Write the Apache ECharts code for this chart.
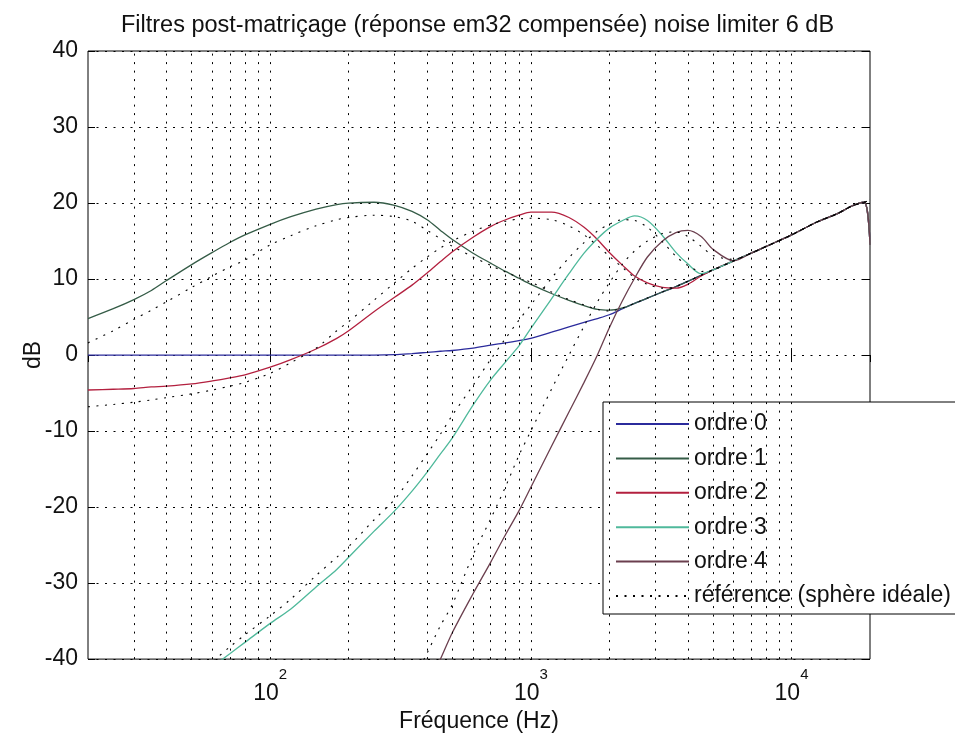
<!DOCTYPE html>
<html>
<head>
<meta charset="utf-8">
<title>Filtres post-matriçage</title>
<script src="https://cdn.jsdelivr.net/npm/echarts@6.0.0/dist/echarts.min.js"></script>
<style>
  html, body { margin: 0; padding: 0; background: #fff; }
  #chart { width: 955px; height: 738px; }
</style>
</head>
<body>
<div id="chart"></div>
<script>
// fréquences communes à toutes les courbes (Hz)
const freqs = [20, 25, 30, 35, 40, 50, 60, 70, 80, 100, 120, 150, 180, 200, 250, 300, 350, 400, 450, 500,
  600, 700, 800, 900, 1000, 1200, 1400, 1600, 1800, 2000, 2250, 2500, 2800, 3200, 3600, 4000, 4500, 5000,
  6000, 7000, 8000, 10000, 12500, 15000, 17000, 19000, 20000];

// filtres em32 compensés (dB)
const ordre0 = [0, 0, 0, 0, 0, 0, 0, 0, 0, 0, 0, 0, 0, 0, 0, 0.05, 0.2, 0.35, 0.5, 0.6,
  0.9, 1.3, 1.6, 1.9, 2.2, 3.0, 3.7, 4.3, 4.8, 5.3, 6.1, 6.8, 7.5, 8.3, 9.0, 9.7, 10.5, 11.2,
  12.4, 13.4, 14.3, 15.8, 17.5, 18.6, 19.6, 20.1, 14.5];
const ordre1 = [4.8, 6.1, 7.3, 8.5, 9.8, 11.9, 13.5, 14.8, 15.8, 17.2, 18.2, 19.2, 19.8, 20.0, 20.1, 19.7, 18.9, 17.8, 16.4, 15.2,
  13.4, 12.1, 11.0, 10.1, 9.3, 8.1, 7.2, 6.5, 6.0, 5.9, 6.2, 6.8, 7.5, 8.3, 9.0, 9.7, 10.5, 11.2,
  12.4, 13.4, 14.3, 15.8, 17.5, 18.6, 19.6, 20.1, 14.5];
const ordre2 = [-4.6, -4.5, -4.4, -4.2, -4.1, -3.8, -3.4, -3.0, -2.6, -1.6, -0.6, 0.8, 2.2, 3.2, 5.7, 7.6, 9.2, 10.8, 12.3, 13.6,
  15.5, 16.9, 17.8, 18.4, 18.8, 18.8, 18.1, 16.8, 15.2, 13.5, 11.8, 10.4, 9.5, 8.9, 8.8, 9.3, 10.4, 11.2,
  12.4, 13.4, 14.3, 15.8, 17.5, 18.6, 19.6, 20.1, 14.5];
const ordre3 = [null, null, null, null, null, -43, -41, -39.3, -37.8, -35.3, -33.4, -30.5, -28.2, -26.6, -23.2, -20.5, -17.9, -15.4, -13.0, -10.9,
  -6.6, -3.3, -0.9, 1.2, 3.5, 7.4, 10.7, 13.4, 15.3, 16.7, 17.7, 18.3, 17.7, 15.7, 13.5, 12.0, 10.7, 11.2,
  12.4, 13.4, 14.3, 15.8, 17.5, 18.6, 19.6, 20.1, 14.5];
const ordre4 = [null, null, null, null, null, null, null, null, null, null, null, null, null, null, null, null, null, -43.7, -40, -36.5,
  -31.4, -27.3, -23.6, -20.5, -17.4, -12.0, -7.5, -3.6, 0.0, 3.6, 7.2, 10.1, 12.9, 15.0, 16.1, 16.4, 15.6, 13.9,
  12.4, 13.4, 14.3, 15.8, 17.5, 18.6, 19.6, 20.1, 14.5];

// référence : sphère idéale (dB)
const ref1 = [1.6, 3.2, 4.7, 5.9, 7.0, 8.9, 10.4, 11.6, 12.5, 14.5, 15.7, 17.0, 17.8, 18.1, 18.4, 18.2, 17.6, 16.4, 15.3, 14.3,
  12.9, 11.8, 10.9, 10.2, 9.6, 8.3, 7.3, 6.6, 6.0, 5.8, 6.2, 6.8, 7.5, 8.3, 9.0, 9.7, 10.5, 11.2,
  12.4, 13.4, 14.3, 15.8, 17.5, 18.6, 19.6, 20.1, 20.4];
const ref2 = [-6.8, -6.5, -6.2, -5.9, -5.6, -5.1, -4.6, -4.1, -3.6, -2.4, -1.0, 0.9, 3.2, 4.4, 7.2, 9.5, 11.4, 12.9, 14.1, 15.0,
  16.3, 17.1, 17.6, 17.9, 18.0, 17.8, 17.0, 15.8, 14.4, 13.0, 11.5, 10.2, 9.3, 8.8, 9.0, 9.7, 10.5, 11.2,
  12.4, 13.4, 14.3, 15.8, 17.5, 18.6, 19.6, 20.1, 20.4];
const ref3 = [null, null, null, null, null, -42, -40.3, -38.4, -36.8, -34.3, -32.1, -29.0, -26.6, -25.2, -21.7, -19.0, -15.9, -13.0, -10.4, -7.9,
  -4.0, -0.6, 2.2, 4.6, 6.6, 10.1, 12.8, 14.8, 16.3, 17.2, 17.8, 17.7, 16.8, 14.9, 13.0, 11.8, 11.0, 11.2,
  12.4, 13.4, 14.3, 15.8, 17.5, 18.6, 19.6, 20.1, 20.4];
const ref4 = [null, null, null, null, null, null, null, null, null, null, null, null, null, null, null, null, -43.1, -39.2, -35.6, -32.8,
  -26.3, -21.6, -17.3, -13.2, -10.0, -4.5, 0.0, 3.8, 7.0, 9.5, 12.0, 13.7, 15.0, 16.0, 16.2, 15.6, 14.3, 13.1,
  12.6, 13.4, 14.3, 15.8, 17.5, 18.6, 19.6, 20.1, 20.4];

// lignes de grille verticales (décades + intermédiaires)
const gridFreqs = [30, 40, 50, 60, 70, 80, 90, 100, 200, 300, 400, 500, 600, 700, 800, 900,
  1000, 2000, 3000, 4000, 5000, 6000, 7000, 8000, 9000, 10000];

const noms = ['ordre 0', 'ordre 1', 'ordre 2', 'ordre 3', 'ordre 4'];
const couleurs = ['#2b2b9c', '#355c47', '#b3203f', '#4fb99b', '#6b3f4e'];
const refNom = 'référence (sphère idéale)';

const FONT = "'Liberation Sans', Arial, sans-serif";
const dots = [2, 6.5];

function pairs(vals) {
  return freqs.map((f, i) => [f, vals[i]]);
}

const solides = [ordre0, ordre1, ordre2, ordre3, ordre4].map((vals, i) => ({
  name: noms[i],
  type: 'line',
  data: pairs(vals),
  symbol: 'none',
  smooth: 0.3,
  lineStyle: { color: couleurs[i], width: 1.3 },
  itemStyle: { color: couleurs[i] },
  z: 3
}));

const refs = [ref1, ref2, ref3, ref4].map(vals => ({
  name: refNom,
  type: 'line',
  data: pairs(vals),
  symbol: 'none',
  smooth: 0.3,
  lineStyle: { color: '#000', width: 1.1, type: dots },
  itemStyle: { color: '#000' },
  z: 4
}));

const grille = {
  name: 'grille',
  type: 'line',
  data: [],
  silent: true,
  markLine: {
    silent: true,
    symbol: 'none',
    animation: false,
    label: { show: false },
    lineStyle: { color: '#000', width: 1, type: dots },
    emphasis: { disabled: true },
    data: gridFreqs.map(f => ({ xAxis: f }))
  },
  z: 1
};

const chart = echarts.init(document.getElementById('chart'));

chart.setOption({
  animation: false,
  backgroundColor: '#fff',
  title: {
    text: 'Filtres post-matriçage (réponse em32 compensée) noise limiter 6 dB',
    left: 'center',
    top: 9,
    textStyle: { fontSize: 23.5, fontWeight: 'normal', color: '#111', fontFamily: FONT }
  },
  grid: {
    left: 88, top: 51, width: 782, height: 612,
    show: true, borderColor: '#000', borderWidth: 1, backgroundColor: 'transparent'
  },
  legend: {
    orient: 'vertical',
    left: 603, top: 402,
    padding: [10, 80, 6, 12],
    itemGap: 10.4,
    itemWidth: 73,
    itemHeight: 12,
    backgroundColor: '#fff',
    borderColor: '#000',
    borderWidth: 1,
    selectedMode: false,
    itemStyle: { opacity: 0 },
    lineStyle: { width: 2 },
    textStyle: { fontSize: 23, lineHeight: 24, color: '#111', fontFamily: FONT },
    data: noms.concat([refNom])
  },
  xAxis: [{
    type: 'log',
    logBase: 10,
    min: 20,
    max: 20000,
    name: 'Fréquence (Hz)',
    nameLocation: 'middle',
    nameGap: 43,
    nameTextStyle: { fontSize: 23, color: '#111', fontFamily: FONT },
    axisLine: { show: false },
    axisTick: { inside: true, length: 7, lineStyle: { color: '#000' } },
    axisLabel: {
      margin: 8,
      showMinLabel: false,
      showMaxLabel: false,
      color: '#111',
      fontFamily: FONT,
      formatter: function (v) {
        const l = Math.log10(v);
        const e = Math.round(l);
        if (Math.abs(l - e) > 1e-6) return '';
        return '{b|10}{s|' + e + '}';
      },
      rich: {
        b: { fontSize: 23, lineHeight: 38, verticalAlign: 'bottom', fontFamily: FONT, color: '#111' },
        s: { fontSize: 15, lineHeight: 10, verticalAlign: 'top', fontFamily: FONT, color: '#111' }
      }
    },
    splitLine: { show: false }
  }, {
    type: 'log',
    logBase: 10,
    min: 20,
    max: 20000,
    position: 'top',
    axisLine: { show: false },
    axisTick: { inside: true, length: 7, lineStyle: { color: '#000' } },
    axisLabel: { show: false },
    splitLine: { show: false }
  }],
  yAxis: [{
    type: 'value',
    min: -40,
    max: 40,
    interval: 10,
    name: 'dB',
    nameLocation: 'middle',
    nameGap: 43,
    nameMoveOverlap: false,
    nameTextStyle: { fontSize: 23, color: '#111', fontFamily: FONT },
    axisLine: { show: false },
    axisTick: { inside: true, length: 7, lineStyle: { color: '#000' } },
    axisLabel: { margin: 10, fontSize: 23, color: '#111', fontFamily: FONT },
    splitLine: { show: true, lineStyle: { color: '#000', width: 1, type: dots } }
  }, {
    type: 'value',
    min: -40,
    max: 40,
    interval: 10,
    position: 'right',
    axisLine: { show: false },
    axisTick: { inside: true, length: 7, lineStyle: { color: '#000' } },
    axisLabel: { show: false },
    splitLine: { show: false }
  }],
  series: [grille].concat(solides, refs)
});
</script>
</body>
</html>
